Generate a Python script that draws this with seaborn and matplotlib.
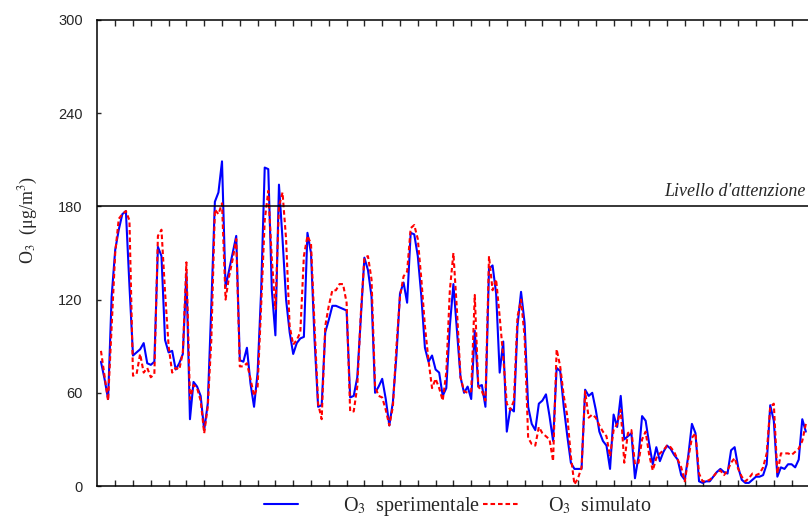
import numpy as np
import pandas as pd
import seaborn as sns
import matplotlib.pyplot as plt

# daily ozone concentrations (ug/m3)
o3_sperimentale = [
    80, 69, 56, 122, 152, 165, 175, 177, 129, 84,
    86, 88, 92, 79, 78, 80, 154, 148, 94, 86,
    87, 75, 79, 85, 137, 43, 67, 64, 58, 36,
    53, 116, 183, 189, 209, 128, 139, 150, 161, 81,
    80, 89, 66, 51, 73, 126, 205, 204, 126, 97,
    194, 159, 120, 99, 85, 92, 95, 96, 163, 150,
    94, 51, 52, 99, 107, 116,
    116, 115, 114, 113, 57, 58, 70, 109, 147, 139,
    122, 60, 64, 69, 56, 39, 54, 84, 124, 131,
    118, 163, 162, 148, 122, 89, 80, 84, 75, 73,
    58, 63, 103, 130,
    100, 70, 60, 64, 56, 100, 64, 65, 51, 140,
    142, 124, 73, 93, 35, 50, 48, 103, 125, 105,
    51, 40, 36, 53, 55, 59, 45, 29, 76, 74,
    51, 32, 15,
    11, 11, 11, 62, 58, 60, 49, 35, 29, 26,
    11, 46, 38, 58, 30, 32, 34, 5, 19, 45,
    42, 27, 14, 25, 16, 22, 26, 24, 20, 17,
    7, 4, 20,
    40, 34, 3, 2, 3, 3, 6, 9, 11, 9,
    8, 23, 25, 12, 4, 2, 2, 4, 6, 6,
    7, 14, 52, 42, 6, 12, 11, 14, 14, 12,
    17, 43, 35,
]

o3_simulato = [
    87, 71, 55, 103, 150, 172, 175, 177, 171, 71,
    72, 85, 73, 76, 70, 72, 161, 165, 125, 90,
    73, 76, 75, 86, 144, 56, 65, 63, 55, 34,
    51, 94, 178, 175, 182, 120, 135, 146, 159, 77,
    77, 79, 69, 58, 64, 116, 171, 190, 146, 114,
    180, 189, 159, 103, 91, 94, 99, 148, 161, 156,
    103, 53, 43, 103, 116, 126,
    126, 130, 130, 118, 48, 48, 64, 111, 147, 148,
    133, 64, 58, 57, 49, 39, 51, 90, 122, 135,
    138, 166, 168, 159, 133, 103, 81, 63, 69, 63,
    55, 73, 126, 150,
    113, 70, 61, 60, 61, 123, 64, 61, 55, 148,
    126, 133, 109, 83, 53, 49, 55, 109, 120, 96,
    31, 27, 26, 38, 34, 32, 30, 16, 88, 77,
    58, 45, 19,
    1, 5, 12, 61, 44, 46, 44, 39, 35, 32,
    19, 36, 40, 49, 15, 34, 36, 14, 15, 30,
    35, 20, 10, 18, 21, 23, 26, 25, 22, 17,
    12, 3, 18,
    31, 34, 8, 3, 3, 4, 6, 9, 10, 7,
    10, 15, 18, 11, 6, 3, 5, 8, 7, 8,
    12, 21, 51, 53, 8, 21, 21, 21, 20, 22,
    24, 29, 40,
]

giorni = np.arange(1, len(o3_sperimentale) + 1)
soglia_attenzione = 180
y_ticks = [0, 60, 120, 180, 240, 300]

df = pd.DataFrame({'giorno': giorni,
                   'sperimentale': o3_sperimentale,
                   'simulato': o3_simulato})

sns.set_style("ticks")
plt.rcParams['font.family'] = ['Liberation Serif', 'DejaVu Serif']
plt.rcParams['mathtext.fontset'] = 'stix'

fig = plt.figure(figsize=(8.08, 5.17), dpi=100)
ax = fig.add_axes([97.4 / 808, 31 / 517, 712 / 808, 466 / 517])

sns.lineplot(data=df, x='giorno', y='sperimentale', ax=ax, color='#0000ff',
             lw=1.5, label='   O$_3$  sperimentale', legend=False)
sns.lineplot(data=df, x='giorno', y='simulato', ax=ax, color='#ff0000',
             lw=1.5, linestyle=(0, (2.2, 1.4)), label='O$_3$  simulato',
             legend=False)

ax.axhline(soglia_attenzione, color='black', lw=1.1)
ax.text(198.8, 187, "Livello d'attenzione", ha='right', va='baseline',
        fontsize=13, style='italic')

ax.set_xlim(0, 200)
ax.set_ylim(0, 300)
ax.set_xticks(range(5, 200, 5))
ax.set_yticks(y_ticks)
ax.tick_params(axis='x', direction='in', length=4, width=1, top=True,
               labelbottom=False)
ax.tick_params(axis='y', direction='in', length=3, width=1, pad=10.5,
               labelsize=10.5)
for lab in ax.get_yticklabels():
    lab.set_fontfamily('Liberation Sans')

ax.set_xlabel('')
ax.set_ylabel('O$_3$  (μg/m$^3$)', fontsize=13)
ax.yaxis.set_label_coords(-0.0806, 0.571)

for side in ['left', 'top', 'bottom']:
    ax.spines[side].set_linewidth(1.1)
    ax.spines[side].set_color('black')
ax.spines['right'].set_visible(False)

handles, labels = ax.get_legend_handles_labels()
ax.legend(handles, labels, loc='center', ncol=2, frameon=False,
          fontsize=14.5, handlelength=1.7, handletextpad=1.5,
          columnspacing=0.15, bbox_to_anchor=(0.5058, -0.045))

fig.savefig('out.png', dpi=100)
plt.close(fig)
